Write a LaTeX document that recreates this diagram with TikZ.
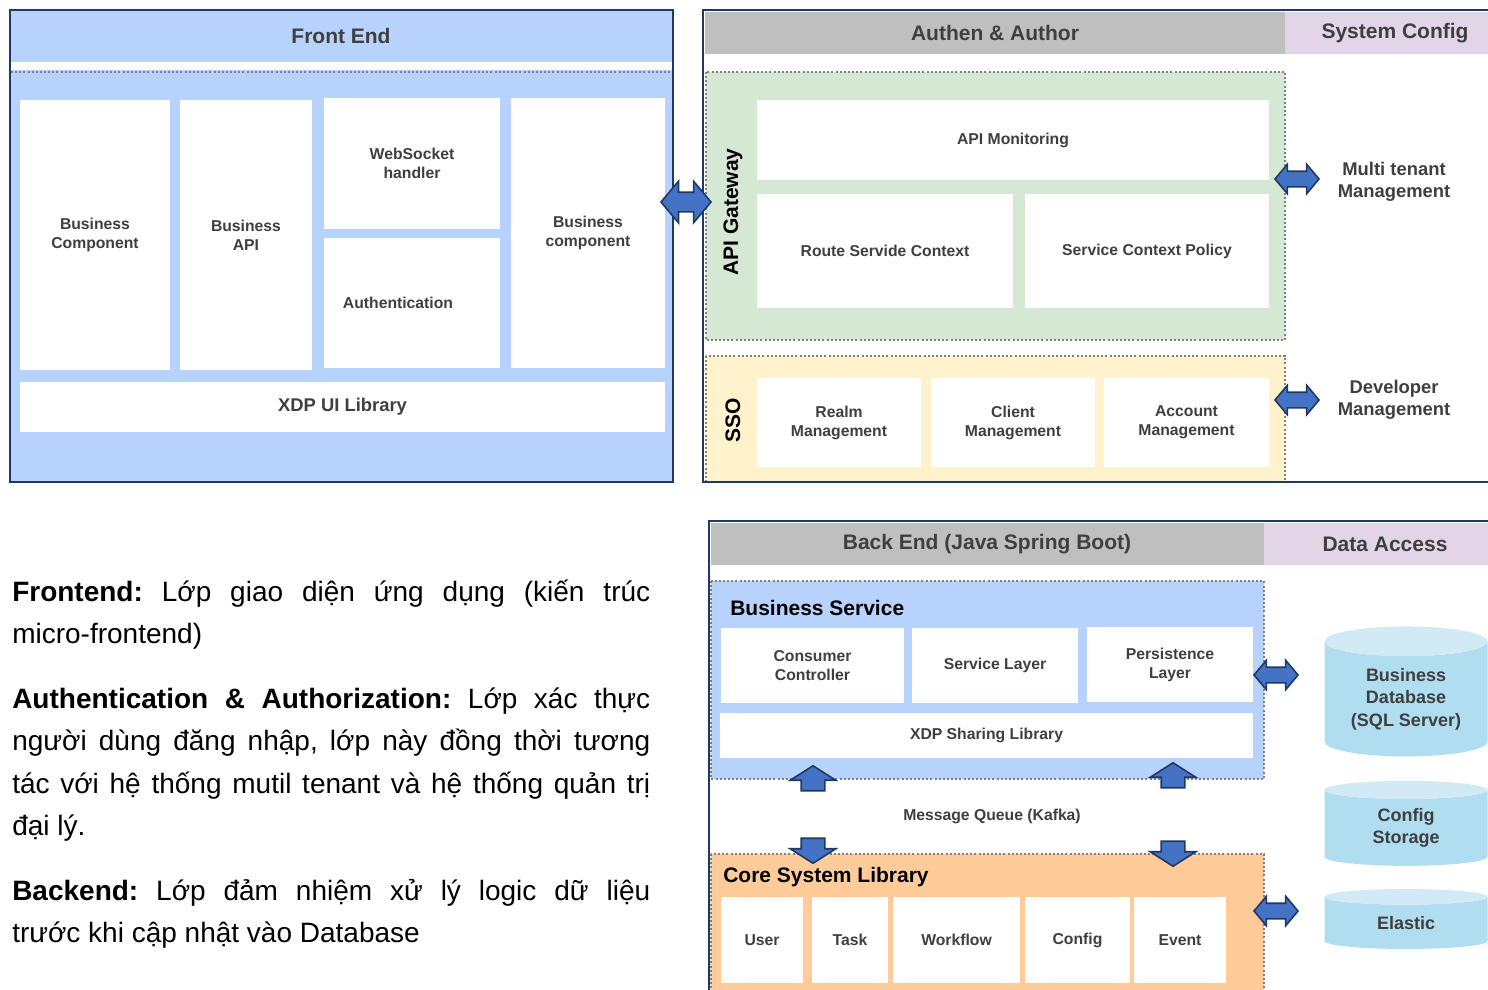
\documentclass[tikz,border=0pt]{standalone}
\usepackage{fontspec}
\setmainfont{Liberation Sans}
\usepackage{tikz}
\usetikzlibrary{shapes.arrows}
\usetikzlibrary{shapes.geometric}
\usetikzlibrary{positioning}
\definecolor{feblue}{HTML}{B7D3FD}
\definecolor{framenavy}{HTML}{1F3864}
\definecolor{hdgrey}{HTML}{BFBFBF}
\definecolor{lilac}{HTML}{E1D5E7}
\definecolor{gwgreen}{HTML}{D5E8D4}
\definecolor{ssoyellow}{HTML}{FFF2CC}
\definecolor{coreorange}{HTML}{FFCC99}
\definecolor{dbbody}{HTML}{B1DDF0}
\definecolor{dbtop}{HTML}{D1EAF6}
\definecolor{arrowblue}{HTML}{4472C4}
\definecolor{txtgrey}{HTML}{3F3F3F}
\definecolor{dotgrey}{HTML}{808080}
\newdimen\px \px=0.75pt
\newcommand{\boxfont}{\fontsize{11.8}{14.3}\selectfont\bfseries}
\newcommand{\capfont}{\fontsize{15.75}{18}\selectfont\bfseries}
\newcommand{\sidefont}{\fontsize{13.8}{16.5}\selectfont\bfseries}
\newcommand{\dbfont}{\fontsize{13.5}{16.9}\selectfont\bfseries}
\newcommand{\notefont}{\fontsize{21}{31.9}\selectfont\frenchspacing}
\tikzstyle{frame} = [draw=framenavy, line width=1.6pt]
\tikzstyle{zone} = [draw=dotgrey, line width=1.5pt, dash pattern=on 1.5pt off 1.6pt]
\tikzstyle{title} = [font=\capfont, text=txtgrey]
\tikzstyle{zonetitle} = [font=\capfont, text=black, inner sep=0pt]
\tikzstyle{cell} = [fill=white, text=txtgrey, font=\boxfont, align=center, inner sep=0pt]
\tikzstyle{side} = [font=\sidefont, text=txtgrey, align=center]
\tikzstyle{link} = [double arrow, draw=framenavy, fill=arrowblue, line width=1.2pt,
    inner xsep=0pt, inner ysep=7\px, minimum height=44\px,
    double arrow head extend=7\px, double arrow tip angle=100]
\tikzstyle{flow} = [single arrow, draw=framenavy, fill=arrowblue, line width=1.2pt,
    inner xsep=0pt, inner ysep=11\px, minimum height=25\px,
    single arrow head extend=11\px, single arrow tip angle=115]
\tikzstyle{store} = [cylinder, shape border rotate=90, aspect=0.27, draw=none,
    cylinder uses custom fill, cylinder body fill=dbbody, cylinder end fill=dbtop,
    minimum width=163\px, text=txtgrey, font=\dbfont, align=center, inner sep=0pt]
\tikzstyle{note} = [anchor=base west, text width=638\px, align=justify, inner sep=0pt, font=\notefont]

\begin{document}
\begin{tikzpicture}[x=0.75pt, y=-0.75pt]
    \useasboundingbox (0,0) rectangle (1488,989);

    % front end
    \filldraw [frame, fill=feblue] (10,10) rectangle (673,482);
    \fill [white] (11,62) rectangle (672,70);
    \draw [zone] (11,72) -- (672,72);
    \node [title] (fetitle) at (341,36) {Front End};
    \node [cell, minimum width=150\px, minimum height=270\px] (bizcomp) at (95,235) {Business\\Component};
    \node [cell, minimum width=132\px, minimum height=270\px] (bizapi) at (246,235) {Business\\API};
    \node [cell, minimum width=176\px, minimum height=131\px] (socket) at (412,163.5) {WebSocket\\handler};
    \node [cell, minimum width=176\px, minimum height=130\px] (feauth) at (412,303) {Authentication\hspace*{28\px}};
    \node [cell, minimum width=154\px, minimum height=270\px] (bizcomp2) at (588,233) {Business\\component};
    \node [cell, font=\sidefont, minimum width=645\px, minimum height=50\px] (uilib) at (342.5,407) {XDP UI Library};

    % authen & author
    \fill [hdgrey] (705,12) rectangle (1285,54);
    \fill [lilac] (1285,12) rectangle (1500,54);
    \node [title] (aatitle) at (995,33) {Authen \& Author};
    \node [title] (sctitle) at (1395,33) {System Config};
    \filldraw [zone, fill=gwgreen] (706,72) rectangle (1285,340);
    \filldraw [zone, fill=ssoyellow] (706,356) rectangle (1285,482);
    \node [zonetitle, rotate=90] (gwtitle) at (733,212) {API Gateway};
    \node [zonetitle, rotate=90] (ssotitle) at (733,420) {SSO};
    \node [cell, minimum width=512\px, minimum height=80\px] (apimon) at (1013,140) {API Monitoring};
    \node [cell, minimum width=256\px, minimum height=114\px] (route) at (885,251) {Route Servide Context};
    \node [cell, minimum width=244\px, minimum height=114\px] (policy) at (1147,251) {Service Context Policy};
    \node [cell, minimum width=164\px, minimum height=89\px] (realm) at (839,422.5) {Realm\\Management};
    \node [cell, minimum width=164\px, minimum height=89\px] (client) at (1013,422.5) {Client\\Management};
    \node [cell, minimum width=165\px, minimum height=89\px] (account) at (1186.5,422.5) {Account\\Management};
    \node [side] (tenant) at (1394,182) {Multi tenant\\Management};
    \node [side] (devmgmt) at (1394,400) {Developer\\Management};
    \node [link] (tenantlink) at (1297,179) {};
    \node [link] (devlink) at (1297,400) {};
    \draw [frame] (703,10) rectangle (1500,482);

    \node [link, minimum height=50\px, inner ysep=9\px, double arrow head extend=11\px] (felink) at (686,202) {};

    % back end
    \fill [hdgrey] (711,523) rectangle (1264,565);
    \fill [lilac] (1264,523) rectangle (1500,565);
    \node [title] (betitle) at (987,544) {Back End (Java Spring Boot)};
    \node [title] (datitle) at (1385,544) {Data Access};
    \filldraw [zone, fill=feblue] (711,581) rectangle (1264,779);
    \filldraw [zone, fill=coreorange] (711,854) rectangle (1264,1000);
    \node [zonetitle, anchor=west] (bstitle) at (730,608) {Business Service};
    \node [zonetitle, anchor=west] (coretitle) at (723,877) {Core System Library};
    \node [cell, minimum width=183\px, minimum height=75\px] (consumer) at (812.5,665.5) {Consumer\\Controller};
    \node [cell, minimum width=166\px, minimum height=75\px] (svclayer) at (995,665.5) {Service Layer};
    \node [cell, minimum width=166\px, minimum height=75\px] (persist) at (1170,664.5) {Persistence\\Layer};
    \node [cell, minimum width=533\px, minimum height=45\px] (sharing) at (986.5,735.5) {XDP Sharing Library};
    \node [cell, minimum width=82\px, minimum height=86\px] (user) at (762,940) {User};
    \node [cell, minimum width=76\px, minimum height=86\px] (task) at (850,940) {Task};
    \node [cell, minimum width=127\px, minimum height=86\px] (workflow) at (956.5,940) {Workflow};
    \node [cell, minimum width=105\px, minimum height=86\px] (config) at (1077.5,940) {Config};
    \node [cell, minimum width=92\px, minimum height=86\px] (event) at (1180,940) {Event};
    \node [font=\boxfont, text=txtgrey] (kafka) at (992,816) {Message Queue (Kafka)};
    \node [flow, rotate=90] (upleft) at (813,782) {};
    \node [flow, rotate=90] (upright) at (1173,779) {};
    \node [flow, rotate=-90] (downleft) at (813,847) {};
    \node [flow, rotate=-90] (downright) at (1173,850) {};
    \node [link] (dblink) at (1276,675) {};
    \node [link] (corelink) at (1276,911) {};
    \node [store, minimum height=130\px] (bizdb) at (1406,699) {Business\\Database\\(SQL Server)};
    \node [store, minimum height=85\px] (cfgdb) at (1406,828) {Config\\Storage};
    \node [store, minimum height=60\px] (elastic) at (1406,923) {Elastic};
    \draw [frame] (709,521) rectangle (1500,1000);

    % notes
    \node [note] (notefe) at (12,601) {\textbf{Frontend:} Lớp giao diện ứng dụng (kiến trúc\linebreak micro-frontend)};
    \node [note] (noteauth) at (12,708) {\textbf{Authentication \& Authorization:} Lớp xác thực\linebreak người dùng đăng nhập, lớp này đồng thời tương\linebreak tác với hệ thống mutil tenant và hệ thống quản trị\linebreak đại lý.};
    \node [note] (notebe) at (12,900) {\textbf{Backend:} Lớp đảm nhiệm xử lý logic dữ liệu\linebreak trước khi cập nhật vào Database};
\end{tikzpicture}
\end{document}
